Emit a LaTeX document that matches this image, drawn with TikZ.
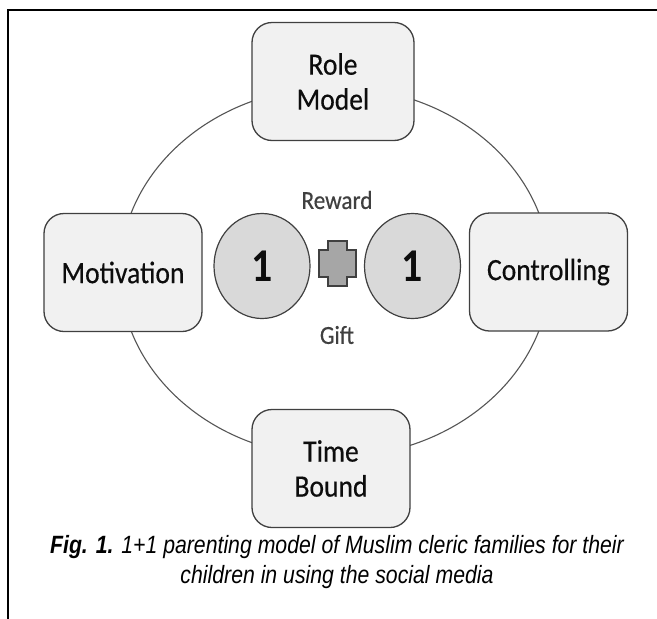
\documentclass[tikz,border=0pt]{standalone}
\usepackage{fontspec}
\usetikzlibrary{shapes.geometric}
\setmainfont{Carlito}
\newfontfamily\boxfont[FakeStretch=0.89,FakeBold=0.4]{Carlito}
\newfontfamily\onefont[FakeStretch=0.89]{Carlito}
\newfontfamily\capfont[FakeStretch=0.85]{Liberation Sans}
\definecolor{boxfill}{HTML}{F1F1F1}
\definecolor{boxline}{HTML}{404040}
\definecolor{ringc}{HTML}{555555}
\definecolor{onefill}{HTML}{D9D9D9}
\definecolor{plusfill}{HTML}{A6A6A6}
\definecolor{txt}{HTML}{0D0D0D}
\definecolor{softtxt}{HTML}{404040}
\begin{document}
\begin{tikzpicture}[x=1pt,y=-1pt,
  box/.style={draw=boxline, fill=boxfill, line width=1.3pt, rounded corners=20pt,
    minimum width=158pt, minimum height=118pt, align=center, text=txt,
    font=\boxfont\fontsize{31}{35}\selectfont},
  onec/.style={ellipse, draw=boxline, fill=onefill, line width=1.2pt,
    minimum width=96pt, minimum height=105pt, inner sep=0pt, text=txt,
    font=\onefont\bfseries\fontsize{47}{47}\selectfont},
  soft/.style={text=softtxt, inner sep=0pt, font=\boxfont\fontsize{26}{30}\selectfont},
  ring/.style={draw=ringc, line width=1.1pt},
  plusshape/.style={draw=boxline, fill=plusfill, line width=1.1pt, line join=miter},
  frame/.style={line width=2.5pt, line cap=rect}
]
\useasboundingbox (0,0) rectangle (657,619);
\fill[white] (0,0) rectangle (657,619);
% frame
\coordinate (fbl) at (8,619);
\coordinate (ftl) at (8,10);
\coordinate (ftr) at (657,10);
\draw[frame] (fbl) -- (ftl) -- (ftr);
% ring
\draw[ring] (335,272) ellipse [x radius=215, y radius=185];
% boxes
\node[box, minimum width=162pt] (role) at (333,81.5) {Role\\Model};
\node[box] (motiv) at (123,272.5) {Motivation};
\node[box] (ctrl) at (548.5,272) {Controlling};
\node[box, minimum width=158pt] (time) at (331,468.5) {Time\\Bound};
% circles
\node[onec] (one1) at (262,266) {1};
\node[onec] (one2) at (412.5,266) {1};
% plus
\draw[plusshape] (328,241) -- (347,241) -- (347,250) -- (356,250) -- (356,277) -- (347,277)
  -- (347,286) -- (328,286) -- (328,277) -- (319,277) -- (319,250) -- (328,250) -- cycle;
% labels
\node[soft] (reward) at (337,200) {Reward};
\node[soft] (gift) at (337,335) {Gift};
% caption
\node[align=center, inner sep=0pt, font=\capfont\itshape\fontsize{25}{30}\selectfont] (cap) at (337,562)
  {\textbf{Fig. 1.} 1+1 parenting model of Muslim cleric families for their\\children in using the social media};
\end{tikzpicture}
\end{document}
